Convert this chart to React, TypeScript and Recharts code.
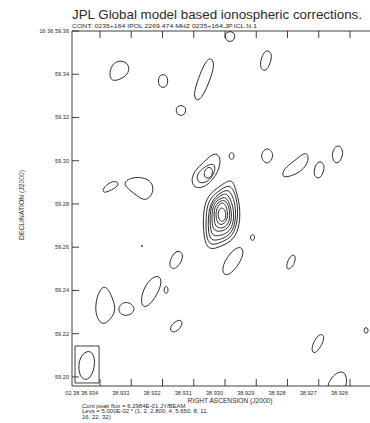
import { ComposedChart, Line, XAxis, YAxis, ReferenceArea } from "recharts"

// RA is seconds of 02h38m, Dec is arcsec of +16d36'
const raTicks = [38.934, 38.933, 38.932, 38.931, 38.93, 38.929, 38.928, 38.927, 38.926]
const decTicks = [59.2, 59.22, 59.24, 59.26, 59.28, 59.3, 59.32, 59.34, 59.36]
const raDomain = [38.924848, 38.934896]
const decDomain = [59.1958, 59.36]

type Pair = [number, number]

// core: nested contours of the main component, outermost first
const coreL1: Pair[] = [[38.92978, 59.292], [38.92965, 59.2865], [38.92952, 59.2795], [38.92952, 59.2703], [38.92971, 59.2634], [38.9301, 59.2606], [38.93051, 59.2583], [38.93067, 59.2634], [38.9307, 59.2717], [38.93067, 59.2795], [38.93048, 59.2851], [38.9301, 59.2888]]
const coreL2: Pair[] = [[38.92984, 59.2893], [38.92965, 59.2842], [38.92958, 59.2772], [38.92962, 59.2698], [38.92981, 59.2643], [38.93016, 59.262], [38.93048, 59.2606], [38.93061, 59.2652], [38.93061, 59.2726], [38.93058, 59.2795], [38.93038, 59.2842], [38.9301, 59.2869]]
const coreL3: Pair[] = [[38.92987, 59.2869], [38.92971, 59.2823], [38.92965, 59.2763], [38.92968, 59.2698], [38.92987, 59.2652], [38.93019, 59.2634], [38.93045, 59.2629], [38.93054, 59.2671], [38.93054, 59.2735], [38.93048, 59.2795], [38.93032, 59.2832], [38.9301, 59.2856]]
const coreL4: Pair[] = [[38.92994, 59.2851], [38.92978, 59.2809], [38.92971, 59.2758], [38.92974, 59.2703], [38.9299, 59.2666], [38.93019, 59.2652], [38.93042, 59.2652], [38.93048, 59.2698], [38.93048, 59.2754], [38.93042, 59.28], [38.93026, 59.2828], [38.9301, 59.2842]]
const coreL5: Pair[] = [[38.92997, 59.2832], [38.92984, 59.28], [38.92978, 59.2754], [38.92981, 59.2708], [38.92997, 59.268], [38.93019, 59.2671], [38.93038, 59.268], [38.93042, 59.2717], [38.93042, 59.2763], [38.93035, 59.28], [38.93022, 59.2819], [38.9301, 59.2828]]
const coreL6: Pair[] = [[38.93, 59.2819], [38.92987, 59.2791], [38.92984, 59.2749], [38.92987, 59.2712], [38.93003, 59.2689], [38.93019, 59.2689], [38.93032, 59.2698], [38.93035, 59.2735], [38.93035, 59.2772], [38.93029, 59.2795], [38.93016, 59.2814]]
const coreL7: Pair[] = [[38.93003, 59.2805], [38.92994, 59.2782], [38.9299, 59.2745], [38.92997, 59.2717], [38.9301, 59.2703], [38.93022, 59.2708], [38.93029, 59.2735], [38.93029, 59.2768], [38.93022, 59.2791], [38.93013, 59.2805]]
const coreL8: Pair[] = [[38.93006, 59.2782], [38.92997, 59.2763], [38.92997, 59.2735], [38.93006, 59.2717], [38.93016, 59.2721], [38.93022, 59.274], [38.93022, 59.2763], [38.93016, 59.2782]]

// knot north-east of the core
const knotOuter: Pair[] = [[38.93029, 59.3036], [38.93013, 59.3013], [38.93019, 59.2957], [38.93042, 59.2906], [38.9307, 59.2874], [38.93099, 59.2874], [38.93109, 59.2911], [38.93096, 59.2957], [38.93067, 59.2994], [38.93048, 59.3022]]
const knotMid: Pair[] = [[38.93038, 59.299], [38.93029, 59.2967], [38.93042, 59.292], [38.93067, 59.2893], [38.9309, 59.2902], [38.9309, 59.2939], [38.93067, 59.2971]]
const knotInner: Pair[] = [[38.93051, 59.2976], [38.93038, 59.2957], [38.93042, 59.293], [38.93054, 59.2916], [38.93067, 59.2925], [38.93067, 59.2953]]

// single-level islands
const islandA: Pair[] = [[38.93365, 59.3364], [38.93371, 59.341], [38.93358, 59.3452], [38.93333, 59.3466], [38.93307, 59.3447], [38.93307, 59.3406], [38.9333, 59.3378]]
const islandB: Pair[] = [[38.93198, 59.3401], [38.93186, 59.3392], [38.93182, 59.3369], [38.93186, 59.3346], [38.93198, 59.3336], [38.93211, 59.3346], [38.93214, 59.3369], [38.93211, 59.3392]]
const islandC: Pair[] = [[38.93045, 59.348], [38.93032, 59.3447], [38.93048, 59.3373], [38.9307, 59.3299], [38.9309, 59.3272], [38.93102, 59.3304], [38.93086, 59.3378], [38.93064, 59.3457]]
const islandD: Pair[] = [[38.92984, 59.36], [38.92971, 59.3591], [38.92968, 59.3577], [38.92971, 59.3558], [38.92984, 59.3549], [38.92997, 59.3558], [38.93, 59.3577], [38.92997, 59.3591]]
const islandE: Pair[] = [[38.93141, 59.3258], [38.93128, 59.3249], [38.93125, 59.3235], [38.93128, 59.3216], [38.93141, 59.3207], [38.93154, 59.3216], [38.93157, 59.3235], [38.93154, 59.3249]]
const islandF: Pair[] = [[38.92862, 59.3512], [38.9285, 59.3494], [38.92853, 59.3457], [38.92866, 59.342], [38.92878, 59.3415], [38.92888, 59.3434], [38.92885, 59.3471], [38.92875, 59.3503]]
const islandG: Pair[] = [[38.92866, 59.3059], [38.9285, 59.3045], [38.92846, 59.3022], [38.92853, 59.2999], [38.92866, 59.2985], [38.92878, 59.2999], [38.92885, 59.3022], [38.92878, 59.3045]]
const islandH: Pair[] = [[38.92818, 59.292], [38.92814, 59.2957], [38.92792, 59.2985], [38.92766, 59.3013], [38.92744, 59.304], [38.92731, 59.3022], [38.92738, 59.298], [38.9276, 59.2948], [38.92786, 59.293]]
const islandI: Pair[] = [[38.92696, 59.2999], [38.92683, 59.2985], [38.92683, 59.2957], [38.9269, 59.293], [38.92702, 59.2916], [38.92715, 59.293], [38.92715, 59.2957], [38.92709, 59.2985]]
const islandJ: Pair[] = [[38.92638, 59.3073], [38.92626, 59.3059], [38.92622, 59.3031], [38.92629, 59.3003], [38.92642, 59.2985], [38.92654, 59.2999], [38.92658, 59.3031], [38.92651, 59.3059]]
const islandK: Pair[] = [[38.92979, 59.304], [38.92971, 59.3031], [38.92971, 59.3013], [38.92979, 59.3003], [38.92987, 59.3013], [38.92987, 59.3031]]
const islandL: Pair[] = [[38.92914, 59.2661], [38.92907, 59.2657], [38.92904, 59.2643], [38.9291, 59.2629], [38.92917, 59.2634], [38.9292, 59.2647]]
const islandM: Pair[] = [[38.93147, 59.2583], [38.93134, 59.2569], [38.93138, 59.2536], [38.93154, 59.2504], [38.9317, 59.2499], [38.93179, 59.2518], [38.93173, 59.255], [38.9316, 59.2578]]
const islandN: Pair[] = [[38.92952, 59.2606], [38.92939, 59.2583], [38.92949, 59.2536], [38.92974, 59.2486], [38.92997, 59.2467], [38.9301, 59.2486], [38.93003, 59.2532], [38.92978, 59.2583]]
const islandO: Pair[] = [[38.93266, 59.261], [38.93262, 59.2606], [38.93266, 59.2601], [38.93269, 59.2606]]
const islandP: Pair[] = [[38.93218, 59.2472], [38.93202, 59.2453], [38.93208, 59.2407], [38.9323, 59.2352], [38.93253, 59.2319], [38.93269, 59.2333], [38.93266, 59.2389], [38.93246, 59.2444]]
const islandQ: Pair[] = [[38.93189, 59.2421], [38.93182, 59.2412], [38.93182, 59.2393], [38.93189, 59.2384], [38.93195, 59.2393], [38.93195, 59.2412]]
const islandR: Pair[] = [[38.9339, 59.2426], [38.93371, 59.2402], [38.93358, 59.2356], [38.93349, 59.231], [38.93365, 59.2268], [38.93387, 59.2241], [38.93406, 59.2259], [38.93416, 59.231], [38.9341, 59.2375]]
const islandS: Pair[] = [[38.93317, 59.2347], [38.93298, 59.2338], [38.93288, 59.2315], [38.93298, 59.2291], [38.93317, 59.2282], [38.93336, 59.2291], [38.93342, 59.2315], [38.93333, 59.2338]]
const islandT: Pair[] = [[38.93147, 59.2268], [38.93134, 59.2254], [38.93144, 59.2222], [38.93163, 59.2204], [38.93176, 59.2213], [38.93173, 59.2241]]
const islandU: Pair[] = [[38.92782, 59.2569], [38.92773, 59.2555], [38.92779, 59.2518], [38.92795, 59.2495], [38.92805, 59.2504], [38.92798, 59.2546]]
const islandV: Pair[] = [[38.92693, 59.2204], [38.9268, 59.2185], [38.92693, 59.2139], [38.92712, 59.2106], [38.92725, 59.212], [38.92715, 59.2171]]
const islandW: Pair[] = [[38.92549, 59.2231], [38.92542, 59.2222], [38.92542, 59.2208], [38.92549, 59.2199], [38.92555, 59.2208], [38.92555, 59.2222]]
const islandX: Pair[] = [[38.92677, 59.1931], [38.92667, 59.1982], [38.92648, 59.2014], [38.92626, 59.2028], [38.9261, 59.2009], [38.9261, 59.1931]]
const islandY: Pair[] = [[38.93394, 59.286], [38.93381, 59.2888], [38.93358, 59.2906], [38.93342, 59.2902], [38.93342, 59.2883], [38.93362, 59.2865], [38.93384, 59.2851]]
const islandZ: Pair[] = [[38.93326, 59.2897], [38.93304, 59.292], [38.93272, 59.2925], [38.9324, 59.2911], [38.93227, 59.2874], [38.93237, 59.2832], [38.93259, 59.2814], [38.93285, 59.2842], [38.9331, 59.2869]]

// restoring beam and its box in the lower-left corner
const beam: Pair[] = [[38.93435, 59.2125], [38.93419, 59.2102], [38.93416, 59.2056], [38.93426, 59.2005], [38.93445, 59.1982], [38.93464, 59.2], [38.9347, 59.2051], [38.93461, 59.2102]]
const beamBox = { ra1: 38.9348, ra2: 38.93403, dec1: 59.1972, dec2: 59.2143 }

const contours = [
  coreL1, coreL2, coreL3, coreL4, coreL5, coreL6, coreL7, coreL8,
  knotOuter, knotMid, knotInner,
  islandA, islandB, islandC, islandD, islandE, islandF, islandG, islandH, islandI,
  islandJ, islandK, islandL, islandM, islandN, islandO, islandP, islandQ, islandR,
  islandS, islandT, islandU, islandV, islandW, islandX, islandY, islandZ,
  beam,
]

const title = "JPL Global model based ionospheric corrections."
const subtitle = "CONT: 0235+164  IPOL  2269.474 MHZ  0235+164.JP.ICL.N.1"
const notes = [
  "Cont peak flux =  6.2984E-01  JY/BEAM",
  "Levs = 5.000E-02 * (1, 2, 2.800, 4, 5.650, 8, 11,",
  "16, 22, 32)",
]

const INK = "#2b2b2b"
const FONT = "'Liberation Sans', Arial, sans-serif"

const BottomTick = (props: any) => {
  const { x, y, payload } = props
  const v = payload.value.toFixed(3)
  const label = Math.abs(payload.value - 38.934) < 1e-6 ? `02 38 ${v}` : v
  return (
    <g>
      <line x1={x} y1={y} x2={x} y2={y - 7} stroke={INK} strokeWidth={0.9} />
      <text x={x - 2} y={y + 8.5} textAnchor="end" fontSize={5.6} fill={INK} fontFamily={FONT}>
        {label}
      </text>
    </g>
  )
}

const TopTick = (props: any) => {
  const { x, y } = props
  return <line x1={x} y1={y} x2={x} y2={y + 7} stroke={INK} strokeWidth={0.9} />
}

const LeftTick = (props: any) => {
  const { x, y, payload } = props
  const v = payload.value.toFixed(2)
  const label = Math.abs(payload.value - 59.36) < 1e-6 ? `16 36 ${v}` : v
  return (
    <g>
      <line x1={x} y1={y} x2={x + 7} y2={y} stroke={INK} strokeWidth={0.9} />
      <text x={x - 3} y={y + 2} textAnchor="end" fontSize={5.6} fill={INK} fontFamily={FONT}>
        {label}
      </text>
    </g>
  )
}

export default function App() {
  return (
    <div style={{ position: "fixed", left: 0, top: 0, width: 370, height: 423, overflow: "hidden", background: "#fff" }}>
      <ComposedChart width={400} height={423} margin={{ top: 0, right: 14, bottom: 0, left: 0 }}>
        <XAxis
          dataKey="ra"
          type="number"
          domain={raDomain}
          allowDataOverflow
          reversed
          ticks={raTicks}
          interval={0}
          height={37}
          tickSize={0}
          tickMargin={0}
          tickLine={false}
          tick={BottomTick}
          axisLine={{ stroke: INK, strokeWidth: 0.9 }}
        />
        <XAxis
          xAxisId="top"
          orientation="top"
          dataKey="ra"
          type="number"
          domain={raDomain}
          allowDataOverflow
          reversed
          ticks={raTicks}
          interval={0}
          height={31}
          tickSize={0}
          tickMargin={0}
          tickLine={false}
          tick={TopTick}
          axisLine={{ stroke: INK, strokeWidth: 0.9 }}
        />
        <YAxis
          dataKey="dec"
          type="number"
          domain={decDomain}
          allowDataOverflow
          ticks={decTicks}
          interval={0}
          width={72}
          tickSize={0}
          tickMargin={0}
          tickLine={false}
          tick={LeftTick}
          axisLine={{ stroke: INK, strokeWidth: 0.9 }}
        />
        <ReferenceArea
          x1={beamBox.ra1}
          x2={beamBox.ra2}
          y1={beamBox.dec1}
          y2={beamBox.dec2}
          fill="none"
          fillOpacity={0}
          stroke={INK}
          strokeWidth={0.9}
        />
        {contours.map((c, i) => (
          <Line
            key={i}
            data={c.map(([ra, dec]) => ({ ra, dec }))}
            dataKey="dec"
            type="basisClosed"
            stroke={INK}
            strokeWidth={1}
            dot={false}
            activeDot={false}
            legendType="none"
            isAnimationActive={false}
          />
        ))}
      </ComposedChart>
      <svg
        width={370}
        height={423}
        style={{ position: "absolute", left: 0, top: 0, pointerEvents: "none" }}
        fontFamily={FONT}
        fill={INK}
      >
        <text x={72} y={19} fontSize={13.4} textLength={290} lengthAdjust="spacingAndGlyphs">
          {title}
        </text>
        <text x={72} y={27.5} fontSize={5.6} textLength={185} lengthAdjust="spacingAndGlyphs">
          {subtitle}
        </text>
        <text transform="translate(24,205) rotate(-90)" textAnchor="middle" fontSize={6.4} textLength={70} lengthAdjust="spacingAndGlyphs">
          DECLINATION (J2000)
        </text>
        <text x={230} y={402.5} textAnchor="middle" fontSize={6.6}>
          RIGHT ASCENSION (J2000)
        </text>
        {notes.map((n, i) => (
          <text key={i} x={82} y={408 + i * 5.4} fontSize={6}>
            {n}
          </text>
        ))}
      </svg>
    </div>
  )
}
